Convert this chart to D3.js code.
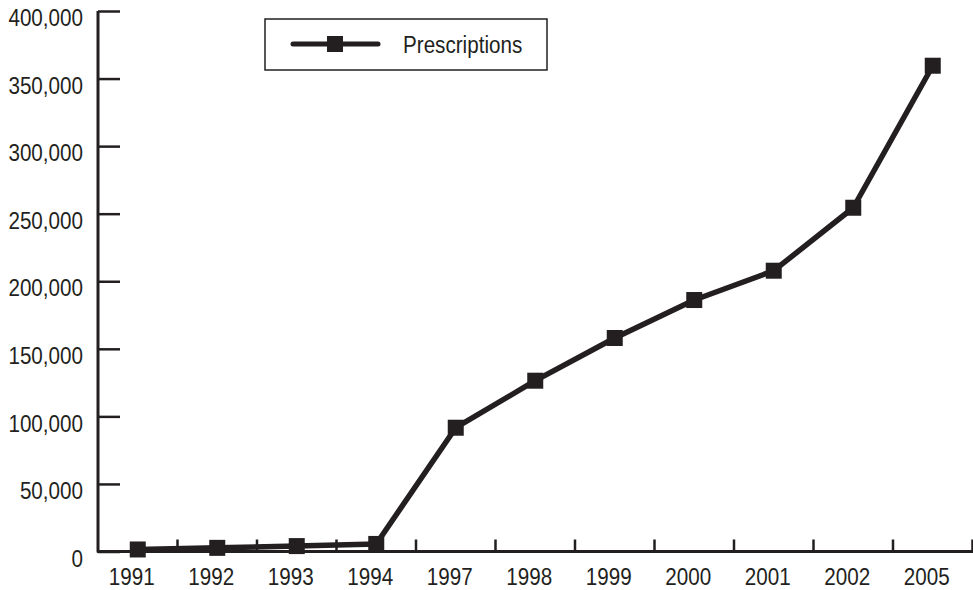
<!DOCTYPE html>
<html>
<head>
<meta charset="utf-8">
<script src="https://cdn.jsdelivr.net/npm/d3@7"></script>
<style>
  html, body { margin: 0; padding: 0; background: #fff; }
  svg text { font-family: "Liberation Sans", Arial, sans-serif; fill: #231f20; }
</style>
</head>
<body>
<svg id="chart"></svg>
<script>
const years = ['1991', '1992', '1993', '1994', '1997', '1998', '1999', '2000', '2001', '2002', '2005'];
const prescriptions = [1500, 2700, 4000, 5600, 91600, 126400, 158000, 186100, 207800, 254400, 359500];
const yTicks = [0, 50000, 100000, 150000, 200000, 250000, 300000, 350000, 400000];
const seriesName = 'Prescriptions';

const ink = '#231f20';
const width = 973, height = 590;
const plot = { left: 98, right: 972.5, top: 11, bottom: 551.5 };
// no condensed face installed, so squeeze a regular one
const narrow = 'scale(0.86,1)';

const svg = d3.select('#chart').attr('width', width).attr('height', height);

const x = d3.scaleBand().domain(years).range([plot.left, plot.right]).padding(0);
const y = d3.scaleLinear().domain([0, 400000]).range([plot.bottom, plot.top]);

// y axis, ticks pointing into the plot
const yAxisG = svg.append('g')
  .attr('transform', `translate(${plot.left},0)`)
  .call(d3.axisLeft(y).tickValues(yTicks).tickSize(-22).tickSizeOuter(0)
    .tickFormat(d3.format(',')));
yAxisG.select('.domain').remove();
yAxisG.selectAll('.tick line').attr('stroke', ink).attr('stroke-width', 2.5);
yAxisG.selectAll('.tick text')
  .attr('x', 0)
  .attr('transform', `translate(-15,7) ${narrow}`)
  .style('font-size', '24px');

// x axis labels
const xAxisG = svg.append('g')
  .attr('transform', `translate(0,${plot.bottom})`)
  .call(d3.axisBottom(x).tickSize(0));
xAxisG.select('.domain').remove();
xAxisG.selectAll('.tick text')
  .attr('y', 0)
  .attr('dy', '0.71em')
  .attr('transform', `translate(-6,16) ${narrow}`)
  .style('font-size', '24px');

// boundary ticks between categories
svg.append('g').selectAll('line')
  .data(years)
  .enter().append('line')
  .attr('x1', d => x(d) + x.bandwidth())
  .attr('x2', d => x(d) + x.bandwidth())
  .attr('y1', plot.bottom)
  .attr('y2', plot.bottom - 12)
  .attr('stroke', ink)
  .attr('stroke-width', 2.5);

// axis lines
svg.append('path')
  .attr('d', `M${plot.left},${plot.top}V${plot.bottom}H${plot.right + 1}`)
  .attr('fill', 'none')
  .attr('stroke', ink)
  .attr('stroke-width', 3)
  .attr('stroke-linejoin', 'round');

// series
const data = years.map((yr, i) => ({ year: yr, value: prescriptions[i] }));
const cx = d => x(d.year) + x.bandwidth() / 2;

svg.append('path')
  .datum(data)
  .attr('fill', 'none')
  .attr('stroke', ink)
  .attr('stroke-width', 5.5)
  .attr('stroke-linejoin', 'round')
  .attr('d', d3.line().x(cx).y(d => y(d.value)));

const markerSize = 16;
svg.append('g').selectAll('rect')
  .data(data)
  .enter().append('rect')
  .attr('x', d => cx(d) - markerSize / 2)
  .attr('y', d => y(d.value) - markerSize / 2)
  .attr('width', markerSize)
  .attr('height', markerSize)
  .attr('fill', ink);

// legend
const legend = svg.append('g').attr('transform', 'translate(265,19)');
legend.append('rect')
  .attr('width', 282)
  .attr('height', 51)
  .attr('fill', '#fff')
  .attr('stroke', ink)
  .attr('stroke-width', 1.5);
legend.append('line')
  .attr('x1', 28).attr('x2', 113)
  .attr('y1', 25).attr('y2', 25)
  .attr('stroke', ink)
  .attr('stroke-width', 5)
  .attr('stroke-linecap', 'round');
legend.append('rect')
  .attr('x', 70 - markerSize / 2)
  .attr('y', 25 - markerSize / 2)
  .attr('width', markerSize)
  .attr('height', markerSize)
  .attr('fill', ink);
legend.append('text')
  .attr('transform', `translate(138,34) ${narrow}`)
  .style('font-size', '24px')
  .text(seriesName);
</script>
</body>
</html>
